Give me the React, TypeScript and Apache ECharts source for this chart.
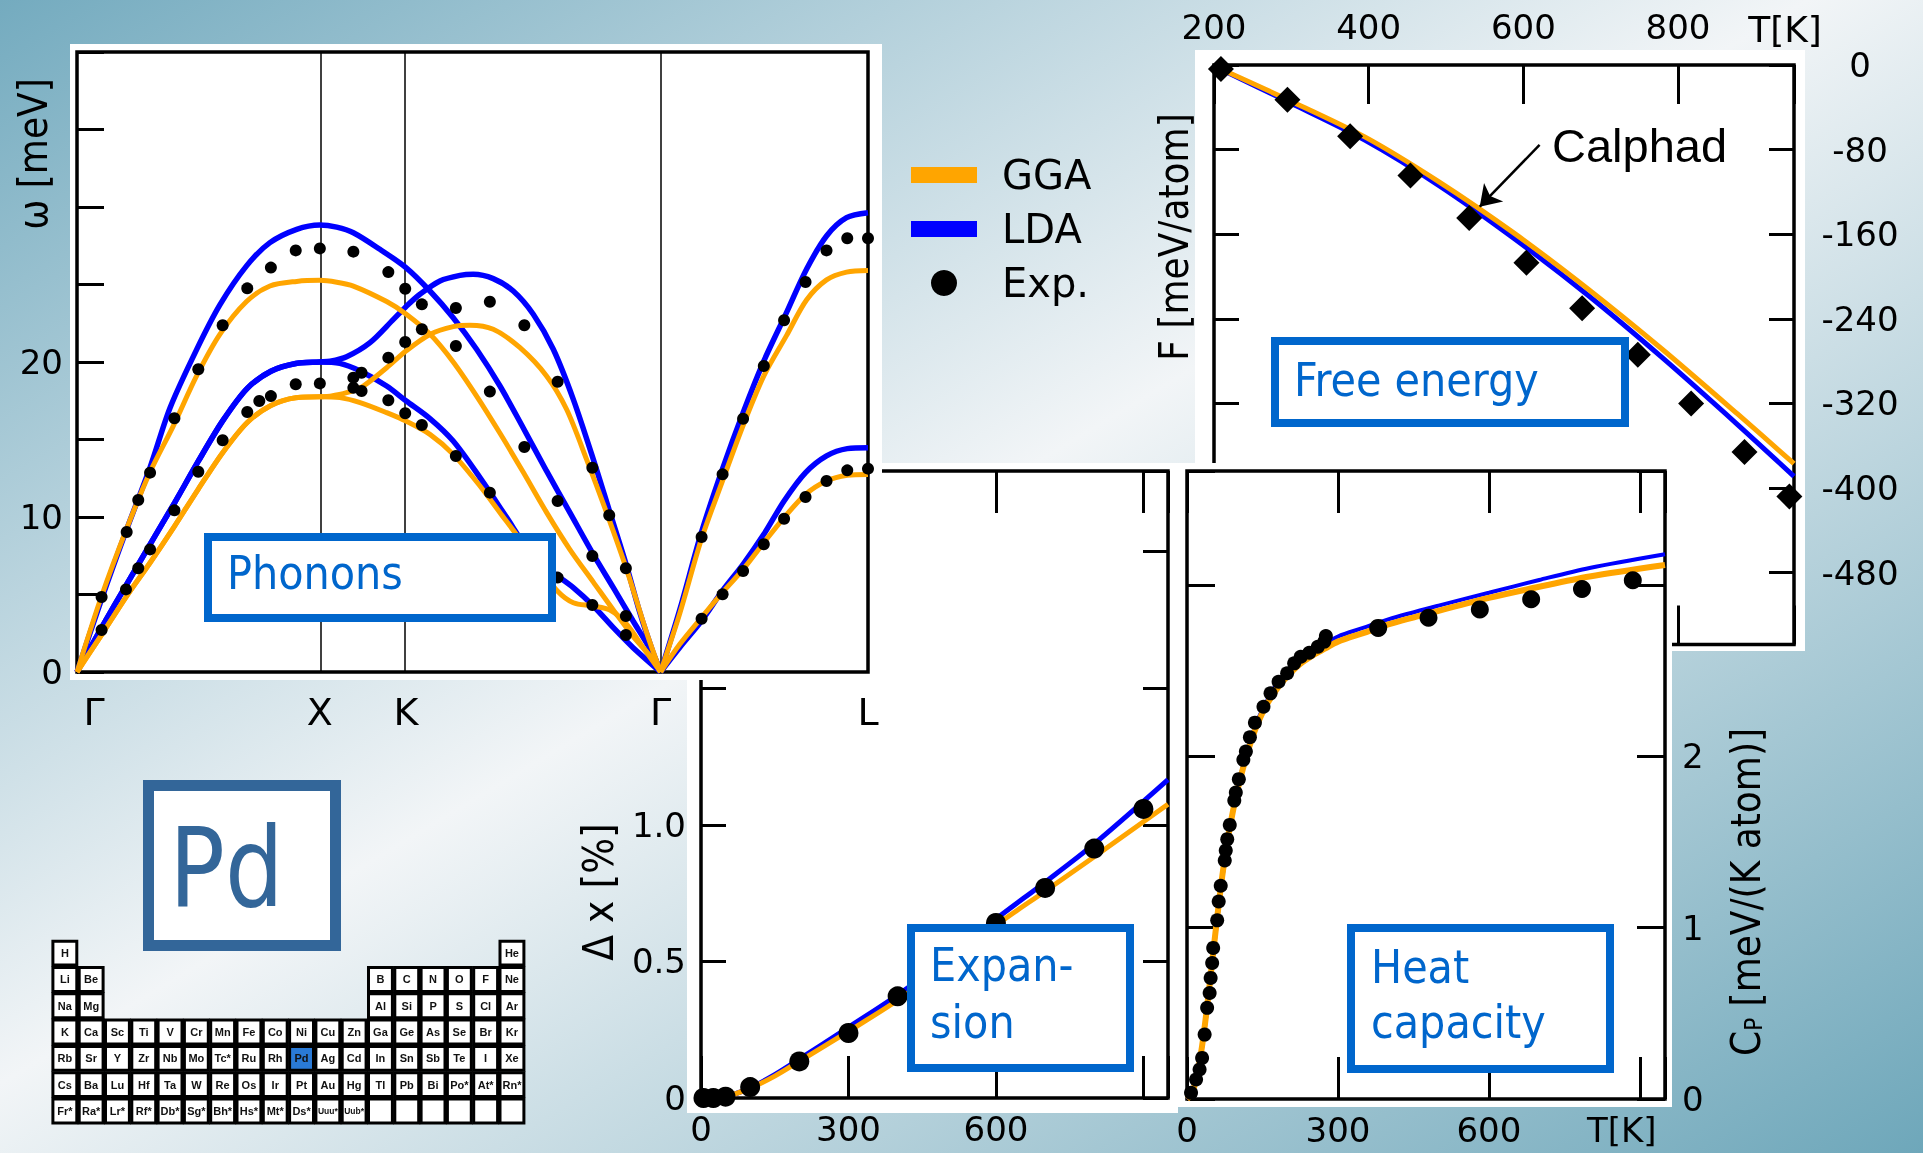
import React, { useEffect, useRef } from "react";
import * as echarts from "echarts";

const ORANGE = "#FFA500";
const BLUE = "#0000FF";
const BOXBLUE = "#0066CC";
const FONT = "DejaVu Sans";
const FONT_C = '"DejaVu Sans Condensed", "DejaVu Sans"';

// ---------------- Phonon dispersion (path coordinate, meV) ----------------
const phononTickPos = [0, 1.007, 1.364, 2.42, 3.28];
const phononTickNames = ["Γ", "X", "K", "Γ", "L"];
const phononYLabels = [0, 10, 20];

const ldaTaGX = [[0, 0], [0.102, 2.86], [0.206, 5.66], [0.303, 8.24], [0.404, 10.9], [0.503, 13.6], [0.604, 16.2], [0.706, 18.3], [0.804, 19.4], [0.907, 19.9], [1.007, 20.0]];
const ggaTaGX = [[0, 0], [0.102, 2.4], [0.206, 4.9], [0.303, 7.05], [0.404, 9.4], [0.503, 11.8], [0.604, 14.15], [0.706, 16.1], [0.804, 17.2], [0.907, 17.7], [1.007, 17.76]];

const ldaBranchA = [[0, 0], [0.102, 4.7], [0.206, 9.2], [0.303, 13.2], [0.386, 17.05], [0.496, 20.8], [0.593, 23.7], [0.703, 26.2], [0.8, 27.7], [0.911, 28.56], [1.007, 28.84], [1.077, 28.7], [1.146, 28.34], [1.256, 27.27], [1.364, 26.09], [1.4635, 24.58], [1.56, 22.86], [1.657, 20.82], [1.754, 18.45], [1.85, 15.76], [1.947, 12.97], [2.044, 10.28], [2.141, 7.59], [2.224, 5.44], [2.306, 3.29], [2.389, 1.14], [2.42, 0]];
const ggaBranchA = [[0, 0], [0.102, 4.9], [0.206, 9.25], [0.303, 12.9], [0.4, 15.9], [0.496, 19.1], [0.593, 21.8], [0.703, 23.9], [0.8, 24.9], [0.911, 25.2], [1.007, 25.27], [1.077, 25.15], [1.146, 24.9], [1.284, 23.9], [1.364, 23.1], [1.4635, 21.8], [1.56, 20.0], [1.657, 17.8], [1.754, 15.4], [1.85, 12.9], [1.947, 10.3], [2.044, 7.9], [2.141, 5.8], [2.224, 4.0], [2.306, 2.3], [2.389, 0.8], [2.42, 0]];
const ldaBranchBTail = [[1.05, 20.05], [1.118, 20.34], [1.215, 21.25], [1.312, 22.75], [1.364, 23.57], [1.422, 24.37], [1.505, 25.23], [1.588, 25.59], [1.643, 25.66], [1.726, 25.38], [1.809, 24.58], [1.892, 23.08], [1.975, 20.82], [2.058, 17.59], [2.141, 13.72], [2.21, 10.28], [2.279, 6.84], [2.334, 3.83], [2.389, 1.25], [2.42, 0]];
const ggaBranchBTail = [[1.05, 17.8], [1.118, 18.02], [1.187, 18.45], [1.284, 19.63], [1.364, 20.71], [1.4635, 21.78], [1.56, 22.28], [1.629, 22.37], [1.726, 22.11], [1.837, 20.92], [1.947, 19.1], [2.03, 16.95], [2.113, 13.72], [2.196, 10.28], [2.279, 6.62], [2.362, 2.54], [2.42, 0]];
const ldaBranchCTail = [[1.09, 19.91], [1.174, 19.42], [1.284, 18.45], [1.364, 17.5], [1.4635, 16.35], [1.56, 14.9], [1.671, 12.54], [1.782, 9.96], [1.865, 8.02], [1.947, 6.73], [1.992, 6.2], [2.058, 5.44], [2.141, 4.26], [2.224, 2.86], [2.306, 1.57], [2.42, 0]];
const ggaBranchCTail = [[1.09, 17.7], [1.174, 17.38], [1.284, 16.73], [1.364, 16.19], [1.4635, 15.33], [1.56, 14.04], [1.671, 12.0], [1.754, 10.28], [1.837, 8.56], [1.92, 6.73], [1.992, 5.23], [2.058, 4.47], [2.137, 4.26], [2.21, 4.0], [2.279, 3.08], [2.348, 1.57], [2.42, 0]];
const ldaBranchD = [[2.42, 0], [2.5, 4.04], [2.589, 8.99], [2.676, 13.07], [2.762, 16.73], [2.848, 20.06], [2.942, 23.18], [3.025, 25.98], [3.108, 28.13], [3.191, 29.31], [3.28, 29.63]];
const ggaBranchD = [[2.42, 0], [2.5, 3.8], [2.589, 8.56], [2.676, 12.3], [2.762, 15.9], [2.848, 19.1], [2.942, 21.7], [3.025, 24.0], [3.108, 25.3], [3.191, 25.8], [3.28, 25.9]];
const ldaBranchE = [[2.42, 0], [2.5, 1.6], [2.589, 3.29], [2.676, 5.23], [2.762, 6.95], [2.848, 8.88], [2.932, 11.03], [3.021, 12.86], [3.108, 13.94], [3.194, 14.41], [3.28, 14.47]];
const ggaBranchE = [[2.42, 0], [2.5, 1.8], [2.589, 3.5], [2.676, 5.12], [2.762, 6.62], [2.848, 8.34], [2.932, 9.96], [3.021, 11.46], [3.108, 12.32], [3.194, 12.69], [3.28, 12.75]];

const phononExp = [
  [0.102, 4.84], [0.206, 9.03], [0.254, 11.1], [0.303, 12.86], [0.404, 16.37], [0.503, 19.53], [0.604, 22.37], [0.706, 24.75], [0.804, 26.09], [0.907, 27.2], [1.007, 27.33],
  [0.102, 2.71], [0.203, 5.33], [0.254, 6.69], [0.303, 7.91], [0.404, 10.43], [0.503, 12.92], [0.604, 14.95], [0.706, 16.77], [0.756, 17.48], [0.804, 17.8], [0.907, 18.56], [1.007, 18.62],
  [1.146, 27.12], [1.291, 25.8], [1.361, 24.73], [1.146, 18.99], [1.18, 19.31], [1.146, 18.34], [1.18, 18.13], [1.291, 20.28], [1.361, 21.29], [1.291, 17.53], [1.361, 16.69],
  [1.43, 23.72], [1.571, 23.48], [1.712, 23.89], [1.855, 22.37], [1.993, 18.73], [2.137, 13.18], [2.207, 10.11], [2.276, 6.69],
  [1.43, 22.11], [1.571, 21.03], [1.712, 18.09], [1.855, 14.52], [1.993, 11.03], [2.137, 7.48], [2.276, 3.61],
  [1.43, 15.94], [1.571, 13.94], [1.712, 11.57], [1.993, 6.09], [2.137, 4.32], [2.276, 2.39],
  [2.59, 8.71], [2.677, 12.75], [2.762, 16.34], [2.848, 19.74], [2.932, 22.69], [3.021, 25.16], [3.108, 27.2], [3.194, 27.98], [3.28, 27.98],
  [2.59, 3.44], [2.677, 5.01], [2.762, 6.52], [2.848, 8.24], [2.932, 9.89], [3.021, 11.29], [3.108, 12.32], [3.194, 13.01], [3.28, 13.12],
];

// ---------------- Free energy ----------------
const feT = [200, 299, 395, 491, 588, 684, 780, 877, 950];
const feGGA = [-1, -34, -68, -110.5, -159, -212, -269, -330, -377];
const feLDA = [-1, -36, -71, -114, -164, -218, -277, -340, -389];
const calphadT = [209, 295, 376, 454, 530, 604, 676, 748, 817, 886, 944];
const calphadF = [-3.9, -32.9, -67.4, -104.6, -144.6, -186.9, -230, -274, -320, -366, -408];
const feXLabels = [200, 400, 600, 800];
const feYTicks = [0, -80, -160, -240, -320, -400, -480];
const calphadArrow = [[621, -75.5], [543.6, -134]];

// ---------------- Thermal expansion ----------------
const expT = [0, 50, 100, 150, 200, 300, 400, 500, 600, 700, 800, 950];
const expLDA = [0, 0.005, 0.037, 0.085, 0.142, 0.259, 0.377, 0.51, 0.655, 0.79, 0.93, 1.165];
const expGGA = [0, 0.005, 0.036, 0.08, 0.134, 0.244, 0.358, 0.49, 0.632, 0.757, 0.883, 1.075];
const expDotT = [5, 25, 50, 100, 200, 300, 400, 600, 700, 800, 900];
const expDotV = [0, 0, 0.005, 0.04, 0.134, 0.238, 0.372, 0.641, 0.769, 0.913, 1.058];
const expXLabels = [0, 300, 600];
const expYLabels = [0, 0.5, 1.0];

// ---------------- Heat capacity ----------------
const cpT = [0, 10, 20, 30, 40, 50, 60, 70, 80, 90, 100, 120, 140, 160, 180, 200, 225, 250, 275, 300, 350, 400, 500, 600, 700, 800, 950];
const cpLDA = [0, 0.03, 0.13, 0.3, 0.52, 0.78, 1.04, 1.28, 1.49, 1.66, 1.81, 2.04, 2.21, 2.33, 2.43, 2.5, 2.57, 2.62, 2.66, 2.7, 2.75, 2.8, 2.88, 2.955, 3.03, 3.1, 3.18];
const cpGGA = [0, 0.035, 0.14, 0.31, 0.54, 0.8, 1.06, 1.3, 1.5, 1.66, 1.8, 2.02, 2.19, 2.31, 2.4, 2.47, 2.54, 2.59, 2.63, 2.67, 2.72, 2.77, 2.85, 2.925, 2.99, 3.05, 3.117];
const cpDotT = [8, 18, 25, 30, 35, 40, 45, 47, 50, 52, 60, 63, 67, 75, 77, 80, 85, 94, 97, 103, 112, 117, 125, 135, 152, 166, 182, 199, 213, 226, 243, 260, 273, 276, 380, 480, 582, 684, 785, 886];
const cpDotV = [0.036, 0.114, 0.172, 0.24, 0.376, 0.532, 0.619, 0.707, 0.794, 0.882, 1.043, 1.153, 1.245, 1.392, 1.451, 1.517, 1.6, 1.742, 1.789, 1.867, 1.98, 2.028, 2.112, 2.197, 2.29, 2.368, 2.436, 2.485, 2.543, 2.582, 2.605, 2.64, 2.67, 2.703, 2.75, 2.809, 2.858, 2.917, 2.977, 3.028];
const cpXLabels = [0, 300, 600];
const cpYLabels = [0, 1, 2];

// ---------------- Periodic table ----------------
const ptTable: (string | null)[][] = [
  ["H", null, null, null, null, null, null, null, null, null, null, null, null, null, null, null, null, "He"],
  ["Li", "Be", null, null, null, null, null, null, null, null, null, null, "B", "C", "N", "O", "F", "Ne"],
  ["Na", "Mg", null, null, null, null, null, null, null, null, null, null, "Al", "Si", "P", "S", "Cl", "Ar"],
  ["K", "Ca", "Sc", "Ti", "V", "Cr", "Mn", "Fe", "Co", "Ni", "Cu", "Zn", "Ga", "Ge", "As", "Se", "Br", "Kr"],
  ["Rb", "Sr", "Y", "Zr", "Nb", "Mo", "Tc*", "Ru", "Rh", "Pd", "Ag", "Cd", "In", "Sn", "Sb", "Te", "I", "Xe"],
  ["Cs", "Ba", "Lu", "Hf", "Ta", "W", "Re", "Os", "Ir", "Pt", "Au", "Hg", "Tl", "Pb", "Bi", "Po*", "At*", "Rn*"],
  ["Fr*", "Ra*", "Lr*", "Rf*", "Db*", "Sg*", "Bh*", "Hs*", "Mt*", "Ds*", "Uuu*", "Uub*", "", "", "", "", "", ""],
];
const highlightElement = "Pd";

const zip = (a: number[], b: number[]) => a.map((x, i) => [x, b[i]]);
const near = (v: number, list: number[]) => list.some((l) => Math.abs(l - v) < 1e-6);

function lineSeries(name: string, data: number[][], color: string, width: number, xi: number, yi: number, z: number, extra: any = {}) {
  return {
    type: "line", name, data, xAxisIndex: xi, yAxisIndex: yi, z,
    color, symbol: "none", showSymbol: false, smooth: 0.3, silent: true,
    lineStyle: { color, width, opacity: 1 }, itemStyle: { color, opacity: 1 }, emphasis: { disabled: true },
    ...extra,
  };
}

function scatterSeries(name: string, data: number[][], size: any, xi: number, yi: number, z: number, symbol = "circle") {
  return {
    type: "scatter", name, data, xAxisIndex: xi, yAxisIndex: yi, z, symbol, symbolSize: size,
    color: "#000", itemStyle: { color: "#000", opacity: 1 }, silent: true, clip: false, emphasis: { disabled: true },
  };
}

const labelStyle = { fontFamily: FONT, fontSize: 34, color: "#000" };
const tickStyle = (len: number) => ({ show: true, inside: true, length: len, lineStyle: { color: "#000", width: 3 } });
const off = { show: false };
const noLine = { show: false, onZero: false };

function buildOption() {
  const grid = [
    { left: 77, top: 52, width: 791, height: 620, z: 21 },
    { left: 1214, top: 65, width: 580, height: 579.5, z: 6 },
    { left: 701, top: 471, width: 467, height: 627, z: 11 },
    { left: 1187, top: 471, width: 478, height: 628, z: 11 },
  ].map((g) => ({ ...g, show: true, borderColor: "#000", borderWidth: 3.5, backgroundColor: "transparent", outerBoundsMode: "none", containLabel: false }));

  const xAxis: any[] = [
    {
      gridIndex: 0, type: "value", min: 0, max: 3.28, position: "bottom", z: 21,
      axisLine: noLine, axisTick: off, splitLine: off,
      axisLabel: {
        ...labelStyle, fontSize: 38, customValues: phononTickPos, showMinLabel: true, showMaxLabel: true,
        margin: 40, verticalAlign: "middle",
        rich: { g: { fontFamily: FONT, fontSize: 38, color: "#000", padding: [0, 0, 0, 34] } },
        formatter: (v: number) => {
          const i = phononTickPos.findIndex((p) => Math.abs(p - v) < 1e-6);
          if (i === 0) return "{g|" + phononTickNames[0] + "}";
          return i >= 0 ? phononTickNames[i] : "";
        },
      },
    },
    {
      gridIndex: 1, type: "value", min: 200, max: 950, interval: 200, position: "top", z: 6,
      axisLine: noLine, axisTick: tickStyle(39), splitLine: off,
      axisLabel: { ...labelStyle, margin: 38, verticalAlign: "middle", showMinLabel: true, formatter: (v: number) => (near(v, feXLabels) ? String(v) : "") },
    },
    { gridIndex: 1, type: "value", min: 200, max: 950, interval: 200, position: "bottom", z: 6, axisLine: noLine, axisTick: tickStyle(39), splitLine: off, axisLabel: off },
    {
      gridIndex: 2, type: "value", min: 0, max: 950, interval: 300, position: "bottom", z: 11,
      axisLine: noLine, axisTick: tickStyle(42), splitLine: off,
      axisLabel: { ...labelStyle, margin: 31, verticalAlign: "middle", showMinLabel: true, formatter: (v: number) => (near(v, expXLabels) ? String(v) : "") },
    },
    { gridIndex: 2, type: "value", min: 0, max: 950, interval: 300, position: "top", z: 11, axisLine: noLine, axisTick: tickStyle(42), splitLine: off, axisLabel: off },
    {
      gridIndex: 3, type: "value", min: 0, max: 950, interval: 300, position: "bottom", z: 11,
      axisLine: noLine, axisTick: tickStyle(42), splitLine: off,
      axisLabel: {
        ...labelStyle, margin: 31, verticalAlign: "middle", showMinLabel: true,
        rich: { t: { fontFamily: FONT, fontSize: 34, color: "#000", padding: [0, 36, 0, 0] } },
        formatter: (v: number) => (Math.abs(v - 900) < 1e-6 ? "{t|T[K]}" : near(v, cpXLabels) ? String(v) : ""),
      },
    },
    { gridIndex: 3, type: "value", min: 0, max: 950, interval: 300, position: "top", z: 11, axisLine: noLine, axisTick: tickStyle(42), splitLine: off, axisLabel: off },
  ];

  const yAxis: any[] = [
    {
      gridIndex: 0, type: "value", min: 0, max: 40, interval: 5, position: "left", z: 21,
      axisLine: noLine, axisTick: tickStyle(27), splitLine: off,
      axisLabel: { ...labelStyle, margin: 14, padding: [0, 0, 20, 0], showMinLabel: true, formatter: (v: number) => (near(v, phononYLabels) ? String(Math.round(v)) : "") },
    },
    {
      gridIndex: 1, type: "value", min: -548, max: 0, position: "right", z: 6,
      axisLine: noLine, splitLine: off,
      axisTick: { ...tickStyle(25), customValues: feYTicks },
      axisLabel: { ...labelStyle, customValues: feYTicks, align: "center", margin: 66, formatter: (v: number) => String(v) },
    },
    { gridIndex: 1, type: "value", min: -548, max: 0, position: "left", z: 6, axisLine: noLine, splitLine: off, axisTick: { ...tickStyle(25), customValues: feYTicks }, axisLabel: off },
    {
      gridIndex: 2, type: "value", min: 0, max: 2.295, interval: 0.5, position: "left", z: 11,
      axisLine: noLine, axisTick: tickStyle(25), splitLine: off,
      axisLabel: { ...labelStyle, margin: 15, showMinLabel: true, formatter: (v: number) => (near(v, expYLabels) ? (Math.abs(v) < 1e-6 ? "0" : v.toFixed(1)) : "") },
    },
    { gridIndex: 2, type: "value", min: 0, max: 2.295, interval: 0.5, position: "right", z: 11, axisLine: noLine, axisTick: tickStyle(25), splitLine: off, axisLabel: off },
    {
      gridIndex: 3, type: "value", min: 0, max: 3.666, interval: 1, position: "right", z: 11,
      axisLine: noLine, axisTick: tickStyle(28), splitLine: off,
      axisLabel: { ...labelStyle, margin: 17, showMinLabel: true, formatter: (v: number) => (near(v, cpYLabels) ? String(Math.round(v)) : "") },
    },
    { gridIndex: 3, type: "value", min: 0, max: 3.666, interval: 1, position: "left", z: 11, axisLine: noLine, axisTick: tickStyle(28), splitLine: off, axisLabel: off },
  ];

  const series: any[] = [
    {
      type: "line", name: "sym", data: [], xAxisIndex: 0, yAxisIndex: 0, z: 21, silent: true, symbol: "none",
      markLine: {
        z: 21, silent: true, symbol: ["none", "none"], label: { show: false }, emphasis: { disabled: true },
        lineStyle: { color: "#000", width: 1.5, type: "solid" },
        data: phononTickPos.slice(1, 4).map((x) => ({ xAxis: x })),
      },
    },
    lineSeries("LDA", ldaBranchA, BLUE, 5.5, 0, 0, 22),
    lineSeries("LDA", [...ldaTaGX, ...ldaBranchBTail], BLUE, 5.5, 0, 0, 22),
    lineSeries("LDA", [...ldaTaGX, ...ldaBranchCTail], BLUE, 5.5, 0, 0, 22),
    lineSeries("LDA", ldaBranchD, BLUE, 5.5, 0, 0, 22),
    lineSeries("LDA", ldaBranchE, BLUE, 5.5, 0, 0, 22),
    lineSeries("GGA", ggaBranchA, ORANGE, 5, 0, 0, 22),
    lineSeries("GGA", [...ggaTaGX, ...ggaBranchBTail], ORANGE, 5, 0, 0, 22),
    lineSeries("GGA", [...ggaTaGX, ...ggaBranchCTail], ORANGE, 5, 0, 0, 22),
    lineSeries("GGA", ggaBranchD, ORANGE, 5, 0, 0, 22),
    lineSeries("GGA", ggaBranchE, ORANGE, 5, 0, 0, 22),
    scatterSeries("Exp.", phononExp, 12, 0, 0, 23),

    lineSeries("LDA", zip(feT, feLDA), BLUE, 5, 1, 1, 7),
    lineSeries("GGA", zip(feT, feGGA), ORANGE, 5, 1, 1, 7, {
      markLine: {
        z: 9, silent: true, symbol: ["none", "arrow"], symbolSize: 20, label: { show: false }, emphasis: { disabled: true },
        lineStyle: { color: "#000", width: 2.5, type: "solid" }, itemStyle: { color: "#000" },
        data: [[{ coord: calphadArrow[0] }, { coord: calphadArrow[1] }]],
      },
    }),
    scatterSeries("Calphad", zip(calphadT, calphadF), 26, 1, 1, 8, "diamond"),

    lineSeries("LDA", zip(expT, expLDA), BLUE, 5, 3, 3, 12),
    lineSeries("GGA", zip(expT, expGGA), ORANGE, 5, 3, 3, 12),
    scatterSeries("Exp.", zip(expDotT, expDotV), 20, 3, 3, 13),

    lineSeries("LDA", zip(cpT, cpLDA), BLUE, 4, 5, 5, 12),
    lineSeries("GGA", zip(cpT, cpGGA), ORANGE, 6, 5, 5, 12),
    scatterSeries("Exp.", zip(cpDotT, cpDotV), (v: number[]) => (v[0] > 300 ? 18 : 14), 5, 5, 13),
  ];

  const g: any[] = [];
  g.push({
    type: "rect", z: -10, shape: { x: 0, y: 0, width: 1923, height: 1153 },
    style: { fill: new echarts.graphic.LinearGradient(0, 0, 1, 1, [
      { offset: 0, color: "#74abbf" }, { offset: 0.47, color: "#f2f5f7" }, { offset: 1, color: "#6ea7ba" },
    ]) },
    silent: true,
  });
  const white = (x: number, y: number, w: number, h: number, z: number) => ({ type: "rect", z, silent: true, shape: { x, y, width: w, height: h }, style: { fill: "#fff" } });
  g.push(white(1195, 50, 610, 601, 5));
  g.push(white(1175, 463, 497, 644, 10));
  g.push(white(687, 463, 491, 650, 10));
  g.push(white(70, 44, 812, 636, 20));

  const box = (x: number, y: number, w: number, h: number) => ({ type: "rect", z: 40, silent: true, shape: { x, y, width: w, height: h }, style: { fill: "#fff", stroke: BOXBLUE, lineWidth: 8 } });
  const boxText = (text: string, x: number, y: number) => ({ type: "text", z: 41, silent: true, x, y, style: { text, fontFamily: FONT_C, fontSize: 46, fill: BOXBLUE, align: "left", verticalAlign: "middle" } });
  g.push(box(208, 537, 344, 81), boxText("Phonons", 227, 573));
  g.push(box(1275, 341, 350, 82), boxText("Free energy", 1294, 380));
  g.push(box(911, 928, 219, 140), boxText("Expan-", 930, 965), boxText("sion", 930, 1022));
  g.push(box(1351, 928, 259, 141), boxText("Heat", 1371, 967), boxText("capacity", 1371, 1022));

  const vText = (text: string, x: number, y: number, extra: any = {}) => ({
    type: "text", z: 30, silent: true, x, y, rotation: Math.PI / 2,
    style: { text, fontFamily: FONT_C, fontSize: 40, fill: "#000", align: "center", verticalAlign: "middle", ...extra },
  });
  g.push(vText("ω [meV]", 33, 154));
  g.push(vText("F [meV/atom]", 1174, 237));
  g.push(vText("Δ x [%]", 598, 892, { fontSize: 42 }));
  g.push(vText("{a|C}{b|P}{a| [meV/(K atom)]}", 1746, 892, {
    rich: {
      a: { fontFamily: FONT_C, fontSize: 40, fill: "#000" },
      b: { fontFamily: FONT_C, fontSize: 24, fill: "#000", verticalAlign: "bottom" },
    },
  }));
  g.push({ type: "text", z: 30, silent: true, x: 1785, y: 29, style: { text: "T[K]", fontFamily: FONT, fontSize: 36, fill: "#000", align: "center", verticalAlign: "middle" } });
  g.push({ type: "text", z: 30, silent: true, x: 1552, y: 145, style: { text: "Calphad", fontFamily: "Liberation Sans", fontSize: 47, fill: "#000", align: "left", verticalAlign: "middle" } });

  g.push({ type: "rect", z: 1, silent: true, shape: { x: 148.5, y: 785.5, width: 187, height: 160 }, style: { fill: "#fff", stroke: "#336699", lineWidth: 11 } });
  g.push({ type: "text", z: 2, silent: true, x: 226.5, y: 868, scaleX: 0.84, style: { text: "Pd", fontFamily: FONT, fontSize: 110, fill: "#336699", align: "center", verticalAlign: "middle" } });

  const x0 = 51.7, y0 = 940, cw = 26.3, ch = 26.3;
  ptTable.forEach((row, r) => row.forEach((el, c) => {
    if (el === null) return;
    const hl = el === highlightElement;
    g.push({ type: "rect", z: 1, silent: true, shape: { x: x0 + c * cw + 1.2, y: y0 + r * ch + 1.2, width: cw - 2.4, height: ch - 2.4 }, style: { fill: hl ? "#2a7ad6" : "#fff", stroke: "#000", lineWidth: 3 } });
    if (el) g.push({ type: "text", z: 2, silent: true, x: x0 + c * cw + cw / 2, y: y0 + r * ch + ch / 2, style: { text: el, fontFamily: "Liberation Sans", fontWeight: "bold", fontSize: el.length > 3 ? 8.5 : 11, fill: "#111", align: "center", verticalAlign: "middle" } });
  }));

  return {
    animation: false,
    grid, xAxis, yAxis, series,
    legend: {
      orient: "vertical", left: 906, top: 150, itemWidth: 66, itemHeight: 26, itemGap: 14, z: 30,
      selectedMode: false, symbolKeepAspect: true,
      itemStyle: { borderWidth: 0, opacity: 1 },
      textStyle: { fontFamily: FONT, fontSize: 40, color: "#000", padding: [0, 0, 0, 20] },
      data: [
        { name: "GGA", icon: "path://M0,0L66,0L66,16L0,16Z" },
        { name: "LDA", icon: "path://M0,0L66,0L66,16L0,16Z" },
        { name: "Exp.", icon: "circle" },
      ],
    },
    graphic: { elements: g },
  };
}

export default function App() {
  const ref = useRef<HTMLDivElement>(null);
  useEffect(() => {
    const chart = echarts.init(ref.current!, undefined, { renderer: "svg" });
    chart.setOption(buildOption() as any);
    return () => chart.dispose();
  }, []);
  return <div ref={ref} style={{ position: "fixed", left: 0, top: 0, width: 1923, height: 1153 }} />;
}
